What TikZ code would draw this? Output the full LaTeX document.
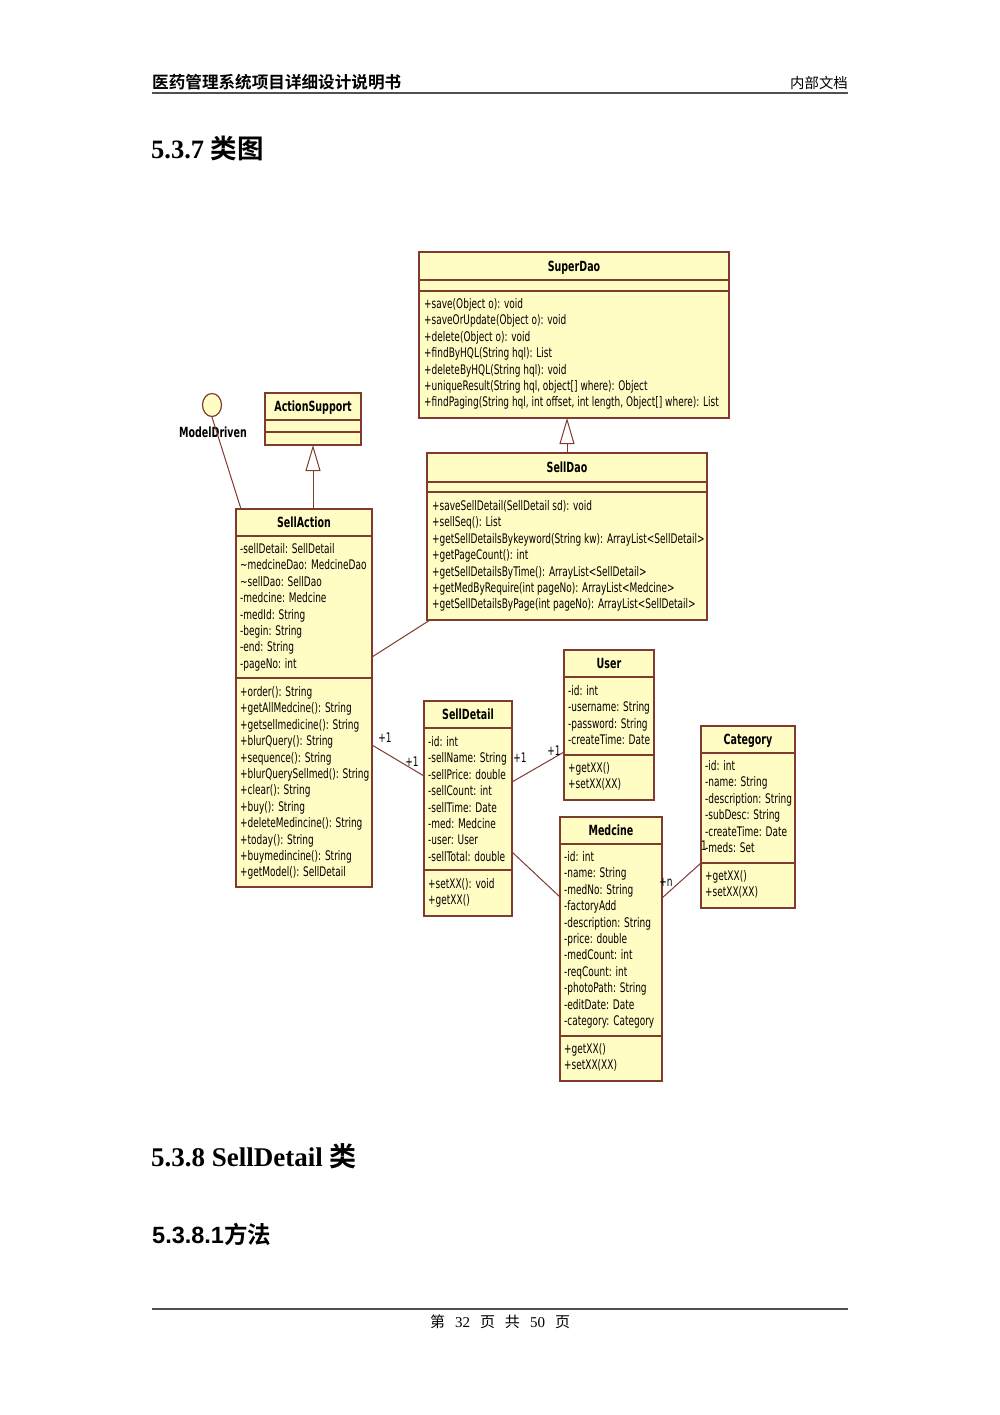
\documentclass[tikz,border=0pt]{standalone}
\usepackage{fontspec}
\usetikzlibrary{calc,arrows.meta,shapes.geometric}
\setmainfont{Liberation Serif}
\newfontfamily\umlfont[FakeStretch=0.68]{DejaVu Sans}
\newfontfamily\cjk{Noto Sans CJK SC}[BoldFont={Noto Sans CJK SC Bold}]
\newfontfamily\sansf{Liberation Sans}
\definecolor{clsfill}{RGB}{255,252,196}
\definecolor{clsdraw}{RGB}{128,58,48}
\definecolor{rulegray}{RGB}{80,80,80}
\tikzset{
  cls/.style={draw=clsdraw, fill=clsfill, line width=1.3, anchor=north west, inner sep=0, outer sep=0},
  cline/.style={draw=clsdraw, line width=1.3},
  ctitle/.style={anchor=base, inner sep=0, font=\umlfont\bfseries\fontsize{14}{16}\selectfont},
  ctxt/.style={anchor=base west, inner sep=0, font=\umlfont\fontsize{13.2}{15}\selectfont},
  mult/.style={inner sep=0, font=\umlfont\fontsize{13.2}{15}\selectfont},
  conn/.style={draw=clsdraw, line width=1},
  gen/.style={draw=clsdraw, line width=1, -{Triangle[open, length=26, width=15, line width=1]}},
}
\newcommand\cls[8]{%
  \node[cls, minimum width=#4, minimum height=#5] (#1) at (#2,#3) {};
  \draw[cline] ($(#1.north west)+(0,#7)$) -- ($(#1.north east)+(0,#7)$);
  \draw[cline] ($(#1.north west)+(0,#8)$) -- ($(#1.north east)+(0,#8)$);
  \node[ctitle] (#1-t) at ($(#1.north)+(0,{#7/2+5})$) {#6};
}
\newcommand\ctext[4]{%
  \foreach \t [count=\i from 0] in {#4}{\node[ctxt] at ($(#1.north west)+(#2,{#3+0.5+16.4*\i})$) {\t};}%
}
\begin{document}
\begin{tikzpicture}[x=1pt,y=-1pt]
\useasboundingbox (0,0) rectangle (1000,1415);
\fill[white] (0,0) rectangle (1000,1415);
% header
\node[anchor=west, inner sep=0, font=\cjk\bfseries\fontsize{16.6}{18}\selectfont] (hdr) at (152,82) {医药管理系统项目详细设计说明书};
\node[anchor=east, inner sep=0, font=\cjk\fontsize{14.4}{16}\selectfont] (hdr2) at (848,83) {内部文档};
\draw[rulegray, line width=2] (152,93) -- (848,93);
\node[anchor=west, inner sep=0, font=\bfseries\fontsize{26.5}{30}\selectfont] (t1) at (151,148) {5.3.7 {\cjk 类图}};
% classes
\cls{superdao}{419}{252}{310}{166}{SuperDao}{28}{39}
\ctext{superdao}{5}{56}{{+save(Object o): void},{+saveOrUpdate(Object o): void},{+delete(Object o): void},{+findByHQL(String hql): List},{+deleteByHQL(String hql): void},{+uniqueResult(String hql, object[] where): Object},{+findPaging(String hql, int offset, int length, Object[] where): List}}
\cls{selldao}{427}{453}{280}{167}{SellDao}{29}{39}
\ctext{selldao}{5}{57}{{+saveSellDetail(SellDetail sd): void},{+sellSeq(): List},{+getSellDetailsBykeyword(String kw): ArrayList<SellDetail>},{+getPageCount(): int},{+getSellDetailsByTime(): ArrayList<SellDetail>},{+getMedByRequire(int pageNo): ArrayList<Medcine>},{+getSellDetailsByPage(int pageNo): ArrayList<SellDetail>}}
\cls{actionsupport}{265}{393}{96}{52}{ActionSupport}{27}{39}
\cls{sellaction}{236}{509}{136}{378}{SellAction}{27}{169}
\ctext{sellaction}{4}{44}{{-sellDetail: SellDetail},{\textasciitilde medcineDao: MedcineDao},{\textasciitilde sellDao: SellDao},{-medcine: Medcine},{-medId: String},{-begin: String},{-end: String},{-pageNo: int}}
\ctext{sellaction}{4}{187}{{+order(): String},{+getAllMedcine(): String},{+getsellmedicine(): String},{+blurQuery(): String},{+sequence(): String},{+blurQuerySellmed(): String},{+clear(): String},{+buy(): String},{+deleteMedincine(): String},{+today(): String},{+buymedincine(): String},{+getModel(): SellDetail}}
\cls{selldetail}{424}{701}{88}{215}{SellDetail}{27}{169}
\ctext{selldetail}{4}{45}{{-id: int},{-sellName: String},{-sellPrice: double},{-sellCount: int},{-sellTime: Date},{-med: Medcine},{-user: User},{-sellTotal: double}}
\ctext{selldetail}{4}{187}{{+setXX(): void},{+getXX()}}
\cls{user}{564}{650}{90}{150}{User}{27}{105}
\ctext{user}{4}{45}{{-id: int},{-username: String},{-password: String},{-createTime: Date}}
\ctext{user}{4}{122}{{+getXX()},{+setXX(XX)}}
\cls{medcine}{560}{817}{102}{264}{Medcine}{27}{219}
\ctext{medcine}{4}{44}{{-id: int},{-name: String},{-medNo: String},{-factoryAdd},{-description: String},{-price: double},{-medCount: int},{-reqCount: int},{-photoPath: String},{-editDate: Date},{-category: Category}}
\ctext{medcine}{4}{236}{{+getXX()},{+setXX(XX)}}
\cls{category}{701}{726}{94}{182}{Category}{27}{137}
\ctext{category}{4}{44}{{-id: int},{-name: String},{-description: String},{-subDesc: String},{-createTime: Date},{-meds: Set}}
\ctext{category}{4}{154}{{+getXX()},{+setXX(XX)}}
% interface
\node[ellipse, draw=clsdraw, fill=clsfill, line width=1.2, minimum width=19, minimum height=23, inner sep=0] (md) at (212,405) {};
\node[ctitle, anchor=center] (mdlabel) at (213,432) {ModelDriven};
% connectors
\draw[conn] (md.south) -- ($(sellaction.north west)+(5,0)$);
\draw[gen] (actionsupport.south |- sellaction.north) -- (actionsupport.south);
\draw[gen] (selldao.north) -- (selldao.north |- superdao.south);
\draw[conn] ($(sellaction.north east)+(0,148)$) -- ($(selldao.south west)+(3,0)$);
\draw[conn] ($(sellaction.north east)+(0,236)$) -- ($(selldetail.north west)+(0,75)$);
\draw[conn] ($(selldetail.north east)+(0,81)$) -- ($(user.north west)+(0,102)$);
\draw[conn] ($(selldetail.north east)+(0,151)$) -- ($(medcine.north west)+(0,80)$);
\draw[conn] ($(medcine.north east)+(0,81)$) -- ($(category.north west)+(0,137)$);
\node[mult] (m1) at (385,738) {+1};
\node[mult] (m2) at (412,762) {+1};
\node[mult] (m3) at (520,758) {+1};
\node[mult] (m4) at (554,751) {+1};
\node[mult] (m5) at (666,882) {+n};
\node[mult] (m6) at (704,846) {1};
% lower headings
\node[anchor=west, inner sep=0, font=\bfseries\fontsize{27}{30}\selectfont] (t2) at (151,1156) {5.3.8 SellDetail {\cjk 类}};
\node[anchor=west, inner sep=0, font=\sansf\bfseries\fontsize{23.5}{26}\selectfont] (t3) at (152,1234) {5.3.8.1{\cjk 方法}};
\draw[rulegray, line width=1.3] (152,1309) -- (848,1309);
\node[inner sep=0, font=\fontsize{15}{18}\selectfont] (ft) at (500,1322) {{\cjk 第}\hspace{10pt}32\hspace{10pt}{\cjk 页}\hspace{10pt}{\cjk 共}\hspace{10pt}50\hspace{10pt}{\cjk 页}};
\end{tikzpicture}
\end{document}
